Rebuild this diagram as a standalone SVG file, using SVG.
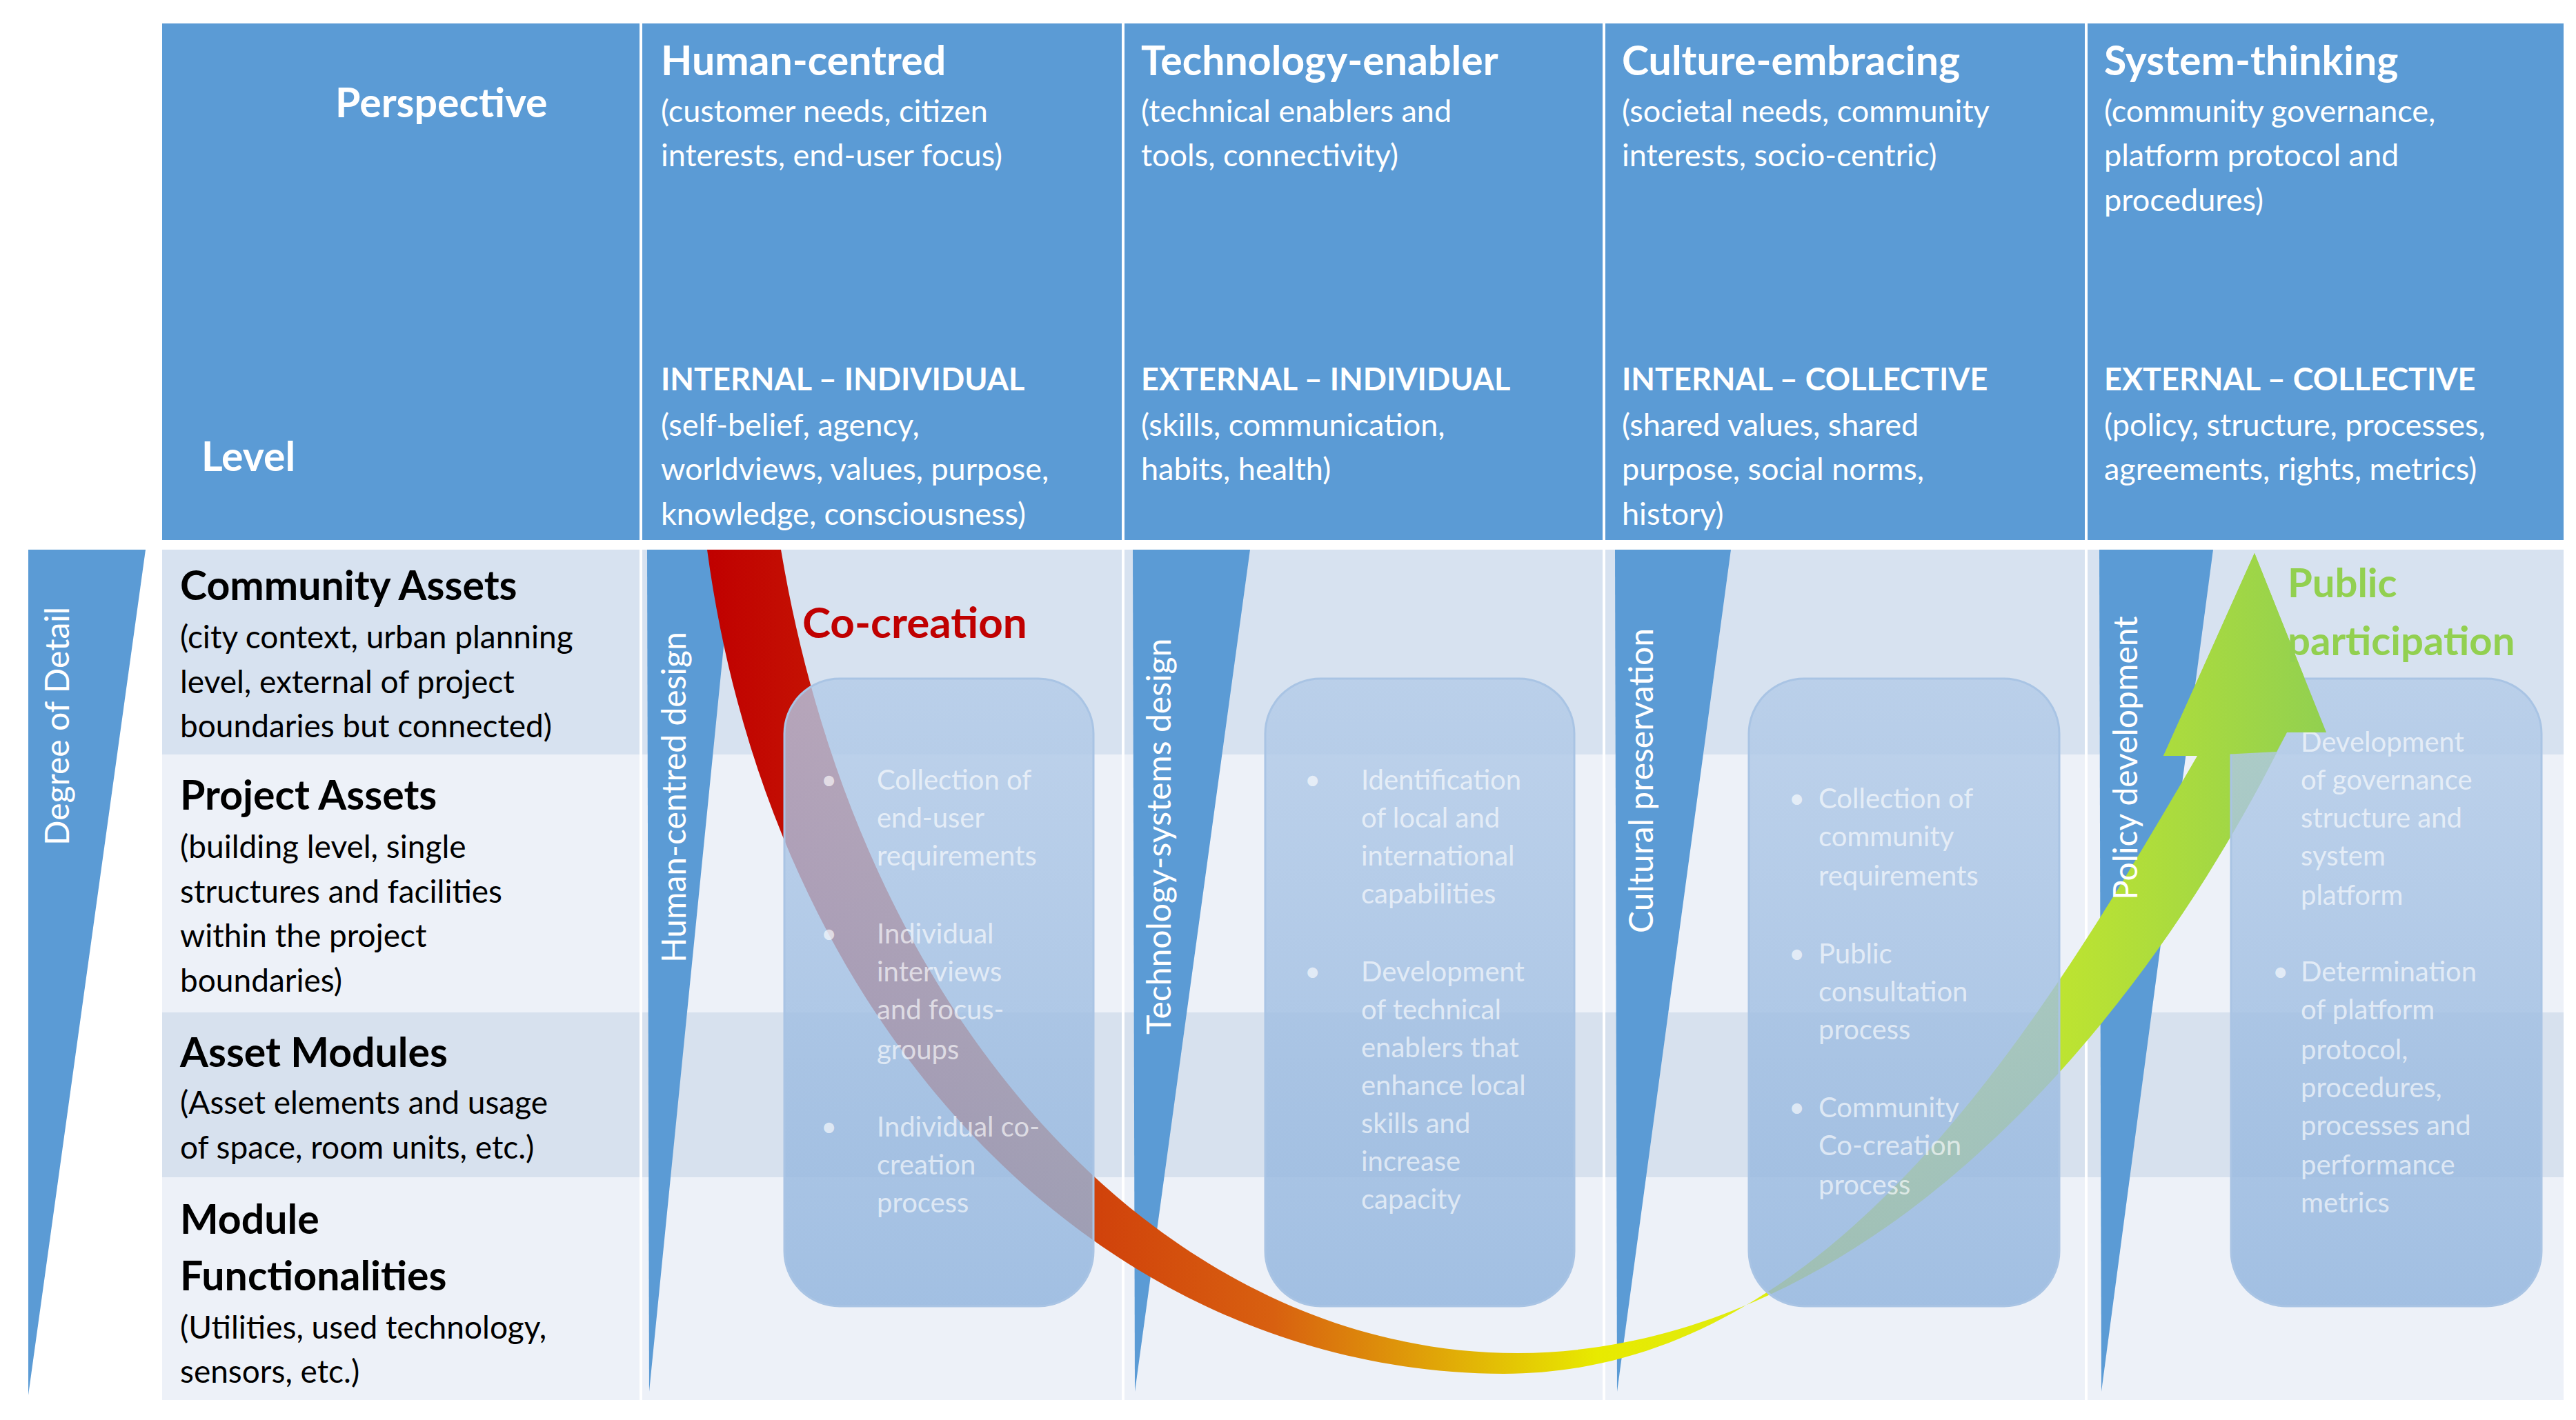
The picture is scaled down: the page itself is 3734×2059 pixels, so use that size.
<svg xmlns="http://www.w3.org/2000/svg" width="3734" height="2059" viewBox="0 0 3734 2059">
<style>
text{font-family:Lato,"Open Sans","Liberation Sans",sans-serif}
.h{fill:#fff;font-weight:bold;font-size:59px}
.hs{fill:#fff;font-size:45px}
.hb{fill:#fff;font-weight:bold;font-size:45px}
.r{fill:#000;font-weight:bold;font-size:59px}
.rs{fill:#000;font-size:46px}
.v{fill:#fff;font-size:48px}
.b{fill:#fff;fill-opacity:.65;font-size:40px}
.tri{fill:#5b9bd5}
.box{fill:url(#bg);fill-opacity:.8;stroke:#a9c4e4;stroke-width:3}
</style>
<defs>
<linearGradient id="bg" x1="0" y1="0" x2="0" y2="1"><stop offset="0" stop-color="#b3cbe8"/><stop offset="1" stop-color="#8fb3dd"/></linearGradient>
<linearGradient id="ag" x1="1025" y1="0" x2="3370" y2="0" gradientUnits="userSpaceOnUse">
<stop offset="0" stop-color="#c00000"/><stop offset="0.35" stop-color="#d86010"/><stop offset="0.55" stop-color="#e8ea00"/><stop offset="0.75" stop-color="#d4ee20"/><stop offset="1" stop-color="#92d050"/></linearGradient>
</defs>
<rect width="3734" height="2059" fill="#fff"/>
<g id="header">
<rect x="235" y="34" width="3481" height="749" fill="#5b9bd5"/>
<g stroke="#fff" stroke-width="4"><line x1="929" y1="34" x2="929" y2="783"/><line x1="1628" y1="34" x2="1628" y2="783"/><line x1="2325" y1="34" x2="2325" y2="783"/><line x1="3024" y1="34" x2="3024" y2="783"/></g>
<text class="h" x="486" y="170">Perspective</text>
<text class="h" x="292" y="683">Level</text>
</g>
<g id="col-human"><text class="h" x="958" y="109">Human-centred</text><text class="hs" x="958" y="177">(customer needs, citizen</text><text class="hs" x="958" y="241">interests, end-user focus)</text>
<text class="hb" x="958" y="566">INTERNAL – INDIVIDUAL</text><text class="hs" x="958" y="632">(self-belief, agency,</text><text class="hs" x="958" y="696">worldviews, values, purpose,</text><text class="hs" x="958" y="761">knowledge, consciousness)</text></g>
<g id="col-tech"><text class="h" x="1654" y="109">Technology-enabler</text><text class="hs" x="1654" y="177">(technical enablers and</text><text class="hs" x="1654" y="241">tools, connectivity)</text>
<text class="hb" x="1654" y="566">EXTERNAL – INDIVIDUAL</text><text class="hs" x="1654" y="632">(skills, communication,</text><text class="hs" x="1654" y="696">habits, health)</text></g>
<g id="col-culture"><text class="h" x="2351" y="109">Culture-embracing</text><text class="hs" x="2351" y="177">(societal needs, community</text><text class="hs" x="2351" y="241">interests, socio-centric)</text>
<text class="hb" x="2351" y="566">INTERNAL – COLLECTIVE</text><text class="hs" x="2351" y="632">(shared values, shared</text><text class="hs" x="2351" y="696">purpose, social norms,</text><text class="hs" x="2351" y="761">history)</text></g>
<g id="col-system"><text class="h" x="3050" y="109">System-thinking</text><text class="hs" x="3050" y="177">(community governance,</text><text class="hs" x="3050" y="241">platform protocol and</text><text class="hs" x="3050" y="306">procedures)</text>
<text class="hb" x="3050" y="566">EXTERNAL – COLLECTIVE</text><text class="hs" x="3050" y="632">(policy, structure, processes,</text><text class="hs" x="3050" y="696">agreements, rights, metrics)</text></g>
<g id="body">
<rect x="235" y="797" width="3481" height="297" fill="#d7e2f0"/>
<rect x="235" y="1094" width="3481" height="374" fill="#edf1f8"/>
<rect x="235" y="1468" width="3481" height="239" fill="#d7e1ee"/>
<rect x="235" y="1707" width="3481" height="323" fill="#edf1f8"/>
<g stroke="#fff" stroke-width="4"><line x1="929" y1="797" x2="929" y2="2030"/><line x1="1628" y1="797" x2="1628" y2="2030"/><line x1="2325" y1="797" x2="2325" y2="2030"/><line x1="3024" y1="797" x2="3024" y2="2030"/></g>
</g>
<g id="rows">
<text class="r" x="261" y="870">Community Assets</text><text class="rs" x="261" y="940">(city context, urban planning</text><text class="rs" x="261" y="1005">level, external of project</text><text class="rs" x="261" y="1069">boundaries but connected)</text>
<text class="r" x="261" y="1174">Project Assets</text><text class="rs" x="261" y="1244">(building level, single</text><text class="rs" x="261" y="1309">structures and facilities</text><text class="rs" x="261" y="1373">within the project</text><text class="rs" x="261" y="1438">boundaries)</text>
<text class="r" x="261" y="1547">Asset Modules</text><text class="rs" x="261" y="1615">(Asset elements and usage</text><text class="rs" x="261" y="1680">of space, room units, etc.)</text>
<text class="r" x="261" y="1789">Module</text><text class="r" x="261" y="1871">Functionalities</text><text class="rs" x="261" y="1941">(Utilities, used technology,</text><text class="rs" x="261" y="2005">sensors, etc.)</text>
</g>
<g id="triangles">
<polygon class="tri" points="41,797 211,797 41,2023"/>
<polygon class="tri" points="938,797 1063,797 941,2018"/>
<polygon class="tri" points="1642,797 1812,797 1645,2018"/>
<polygon class="tri" points="2341,797 2509,797 2344,2018"/>
<polygon class="tri" points="3043,797 3208,797 3046,2018"/>
</g>
<g id="connectors">
<path d="M1025,797 C1120,1500 1600,1990 2180,1992 C2650,1992 2950,1500 3185,1096 L3136,1096 L3268,802 L3372,1062 L3315,1062 C3100,1500 2700,1960 2200,1962 C1700,1962 1250,1500 1132,797 Z" fill="url(#ag)"/>
</g>
<g id="vlabels">
<text class="v" transform="translate(100,1226) rotate(-90)">Degree of Detail</text>
<text class="v" transform="translate(994,1396) rotate(-90)">Human-centred design</text>
<text class="v" transform="translate(1697,1500) rotate(-90)">Technology-systems design</text>
<text class="v" transform="translate(2396,1353) rotate(-90)">Cultural preservation</text>
<text class="v" transform="translate(3098,1305) rotate(-90)">Policy development</text>
</g>
<g id="box1"><rect class="box" x="1137" y="984" width="448" height="910" rx="80"/>
<g class="b"><text x="1190" y="1145">•</text><text x="1271" y="1145">Collection of</text><text x="1271" y="1200">end-user</text><text x="1271" y="1255">requirements</text>
<text x="1190" y="1368">•</text><text x="1271" y="1368">Individual</text><text x="1271" y="1423">interviews</text><text x="1271" y="1478">and focus-</text><text x="1271" y="1536">groups</text>
<text x="1190" y="1648">•</text><text x="1271" y="1648">Individual co-</text><text x="1271" y="1703">creation</text><text x="1271" y="1758">process</text></g></g>
<g id="box2"><rect class="box" x="1834" y="984" width="448" height="910" rx="80"/>
<g class="b"><text x="1891" y="1145">•</text><text x="1973" y="1145">Identification</text><text x="1973" y="1200">of local and</text><text x="1973" y="1255">international</text><text x="1973" y="1310">capabilities</text>
<text x="1891" y="1423">•</text><text x="1973" y="1423">Development</text><text x="1973" y="1478">of technical</text><text x="1973" y="1533">enablers that</text><text x="1973" y="1588">enhance local</text><text x="1973" y="1643">skills and</text><text x="1973" y="1698">increase</text><text x="1973" y="1753">capacity</text></g></g>
<g id="box3"><rect class="box" x="2535" y="984" width="450" height="910" rx="80"/>
<g class="b"><text x="2593" y="1172">•</text><text x="2636" y="1172">Collection of</text><text x="2636" y="1227">community</text><text x="2636" y="1284">requirements</text>
<text x="2593" y="1397">•</text><text x="2636" y="1397">Public</text><text x="2636" y="1452">consultation</text><text x="2636" y="1507">process</text>
<text x="2593" y="1620">•</text><text x="2636" y="1620">Community</text><text x="2636" y="1675">Co-creation</text><text x="2636" y="1732">process</text></g></g>
<g id="box4"><rect class="box" x="3234" y="984" width="450" height="910" rx="80"/>
<g class="b"><text x="3335" y="1090">Development</text><text x="3335" y="1145">of governance</text><text x="3335" y="1200">structure and</text><text x="3335" y="1255">system</text><text x="3335" y="1312">platform</text>
<text x="3294" y="1423">•</text><text x="3335" y="1423">Determination</text><text x="3335" y="1478">of platform</text><text x="3335" y="1536">protocol,</text><text x="3335" y="1591">procedures,</text><text x="3335" y="1646">processes and</text><text x="3335" y="1703">performance</text><text x="3335" y="1758">metrics</text></g></g>
<g id="arrowhead">
<path d="M3136,1096 L3268,802 L3372,1062 L3315,1062 L3300,1090 L3185,1096 Z" fill="url(#ag)"/>
</g>
<g id="labels">
<text x="1163" y="925" font-size="62" font-weight="bold" fill="#c00000">Co-creation</text>
<text x="3316" y="866" font-size="58" font-weight="bold" fill="#92d050">Public</text>
<text x="3316" y="950" font-size="58" font-weight="bold" fill="#92d050">participation</text>
</g>
</svg>
